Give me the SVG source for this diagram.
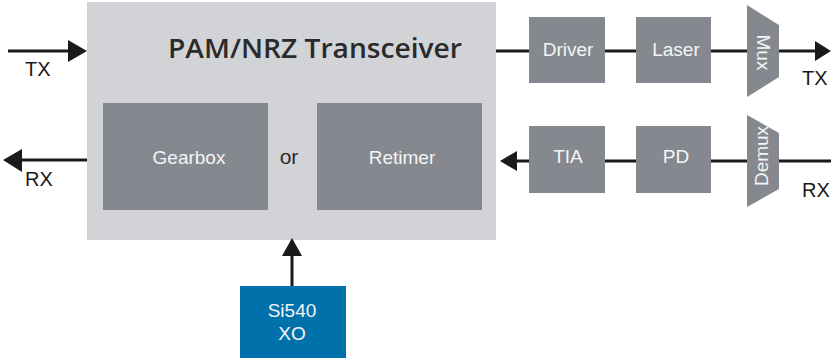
<svg xmlns="http://www.w3.org/2000/svg" width="831" height="358" viewBox="0 0 831 358">
<style>
.blk{fill:#85888f}
.wt{fill:#f4f5f6;font-family:"Liberation Sans",Arial,sans-serif;text-anchor:middle;font-size:19px}
.lbl{fill:#1a1a1a;font-family:"Liberation Sans",Arial,sans-serif;font-size:20px}
.ln{stroke:#1a1a1a;stroke-width:3;fill:none}
.ah{fill:#1a1a1a}
</style>
<rect width="831" height="358" fill="#ffffff"/>
<g id="transceiver">
<rect x="87" y="2" width="409" height="238" fill="#d1d3d7"/>
<text x="315" y="58" fill="#2a2a2a" font-family="'Open Sans',sans-serif" font-weight="600" font-size="27" text-anchor="middle" textLength="294" lengthAdjust="spacingAndGlyphs">PAM/NRZ Transceiver</text>
<text x="289" y="164" fill="#2a2a2a" font-family="'Liberation Sans',Arial,sans-serif" font-size="21" text-anchor="middle">or</text>
</g>
<g id="gearbox">
<rect class="blk" x="103" y="103" width="165" height="107"/>
<text class="wt" x="189" y="164">Gearbox</text>
</g>
<g id="retimer">
<rect class="blk" x="317" y="103" width="165" height="107"/>
<text class="wt" x="402" y="164">Retimer</text>
</g>
<g id="driver">
<rect class="blk" x="529" y="17" width="76" height="66"/>
<text class="wt" x="568" y="56">Driver</text>
</g>
<g id="laser">
<rect class="blk" x="636" y="17" width="75" height="66"/>
<text class="wt" x="676" y="56">Laser</text>
</g>
<g id="mux">
<polygon class="blk" points="747,5 779,25 779,77 747,97"/>
<text class="wt" transform="translate(757,52.5) rotate(90)">Mux</text>
</g>
<g id="tia">
<rect class="blk" x="529" y="126" width="76" height="67"/>
<text class="wt" x="568" y="163">TIA</text>
</g>
<g id="pd">
<rect class="blk" x="636" y="126" width="75" height="67"/>
<text class="wt" x="676" y="163">PD</text>
</g>
<g id="demux">
<polygon class="blk" points="747,115 779,133 779,189 747,207"/>
<text class="wt" transform="translate(768,156) rotate(-90)">Demux</text>
</g>
<g id="xo">
<rect x="240" y="286" width="106" height="72" fill="#0071ab"/>
<text class="wt" x="292" y="317">Si540</text>
<text class="wt" x="292" y="340">XO</text>
</g>
<g id="connectors">
<line class="ln" x1="8" y1="51" x2="70" y2="51"/>
<polygon class="ah" points="68,40 87,51 68,62"/>
<line class="ln" x1="87" y1="160" x2="20" y2="160"/>
<polygon class="ah" points="22,149 3,160 22,172"/>
<line class="ln" x1="496" y1="51" x2="529" y2="51"/>
<line class="ln" x1="605" y1="51" x2="636" y2="51"/>
<line class="ln" x1="711" y1="51" x2="747" y2="51"/>
<line class="ln" x1="779" y1="51" x2="816" y2="51"/>
<polygon class="ah" points="815,41 831,51 815,61"/>
<line class="ln" x1="831" y1="161" x2="779" y2="161"/>
<line class="ln" x1="747" y1="161" x2="711" y2="161"/>
<line class="ln" x1="636" y1="161" x2="605" y2="161"/>
<line class="ln" x1="529" y1="161" x2="515" y2="161"/>
<polygon class="ah" points="517,151 500,161 517,171"/>
<line class="ln" x1="292" y1="286" x2="292" y2="253"/>
<polygon class="ah" points="282,256 292,238 302,256"/>
</g>
<g id="labels">
<text class="lbl" x="25" y="76">TX</text>
<text class="lbl" x="25" y="186">RX</text>
<text class="lbl" x="802" y="85">TX</text>
<text class="lbl" x="802" y="197">RX</text>
</g>
</svg>
